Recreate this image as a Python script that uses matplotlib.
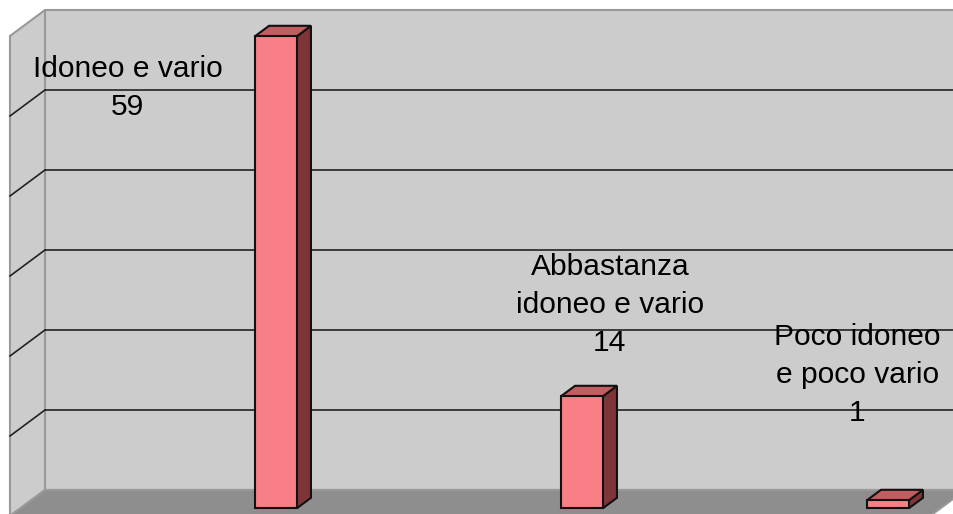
import matplotlib
matplotlib.use("Agg")
import matplotlib.pyplot as plt
from matplotlib.patches import Polygon

plt.rcParams['font.family'] = ['Liberation Sans', 'DejaVu Sans']

# data
categories = ["Idoneo e vario", "Abbastanza\nidoneo e vario", "Poco idoneo\ne poco vario"]
values = [59, 14, 1]
grid_levels = [10, 20, 30, 40, 50]
y_max = 60

# label anchors (centre x, baseline of the last line) in data units
label_x = [-0.564, 1.011, 1.82]
label_y = [46.9, 17.4, 8.6]

# 3d look: offset of the front plane relative to the back wall
DX, DY = -0.1144, -3.25
wall_left, wall_right = -0.835, 2.172
bar_w = 0.137
bar_front, bar_back = 0.3, 0.7   # depth fractions (0 = front, 1 = back)

wall_c = '#cccccc'
floor_c = '#8e8e8e'
border_c = '#999999'
face_c, top_c, side_c = '#f77f85', '#c05e62', '#7f3538'


def proj(x, y, d):
    # d: depth, 1 = back wall, 0 = front edge
    return (x + (1 - d) * DX, y + (1 - d) * DY)


fig = plt.figure(figsize=(9.54, 5.14), dpi=100)
ax = fig.add_axes([0, 0, 1, 1])
ax.set_xlim(-0.982, 2.1356)
ax.set_ylim(-3, 61.25)
ax.axis('off')

# back wall
back = [proj(wall_left, 0, 1), proj(wall_right, 0, 1),
        proj(wall_right, y_max, 1), proj(wall_left, y_max, 1)]
ax.add_patch(Polygon(back, closed=True, fc=wall_c, ec=border_c, lw=1.5, zorder=1))
# left wall
left = [proj(wall_left, 0, 1), proj(wall_left, y_max, 1),
        proj(wall_left, y_max, 0), proj(wall_left, 0, 0)]
ax.add_patch(Polygon(left, closed=True, fc=wall_c, ec=border_c, lw=1.5, zorder=1))
# floor
floor = [proj(wall_left, 0, 1), proj(wall_right, 0, 1),
         proj(wall_right, 0, 0), proj(wall_left, 0, 0)]
ax.add_patch(Polygon(floor, closed=True, fc=floor_c, ec=border_c, lw=1.5, zorder=1))

# gridlines
for g in grid_levels:
    x0, y0 = proj(wall_left, g, 1)
    x1, y1 = proj(wall_right, g, 1)
    ax.plot([x0, x1], [y0, y1], color='#222222', lw=1.2, zorder=2)
    x2, y2 = proj(wall_left, g, 0)
    ax.plot([x2, x0], [y2, y0], color='#222222', lw=1.2, zorder=2)

# bars
for i, v in enumerate(values):
    xl, xr = i - bar_w / 2, i + bar_w / 2
    front = [proj(xl, 0, bar_front), proj(xr, 0, bar_front),
             proj(xr, v, bar_front), proj(xl, v, bar_front)]
    top = [proj(xl, v, bar_front), proj(xr, v, bar_front),
           proj(xr, v, bar_back), proj(xl, v, bar_back)]
    side = [proj(xr, 0, bar_front), proj(xr, 0, bar_back),
            proj(xr, v, bar_back), proj(xr, v, bar_front)]
    for poly, c in ((side, side_c), (top, top_c), (front, face_c)):
        ax.add_patch(Polygon(poly, closed=True, fc=c, ec='#111111', lw=1.5,
                             joinstyle='miter', zorder=3))

# labels
for cat, v, lx, ly in zip(categories, values, label_x, label_y):
    ax.text(lx, ly, f"{cat}\n{v}", ha='center', va='baseline',
            multialignment='center', fontsize=21.6, linespacing=1.46,
            color='#000000', zorder=4)

fig.savefig('out.png', dpi=100, facecolor='white')
